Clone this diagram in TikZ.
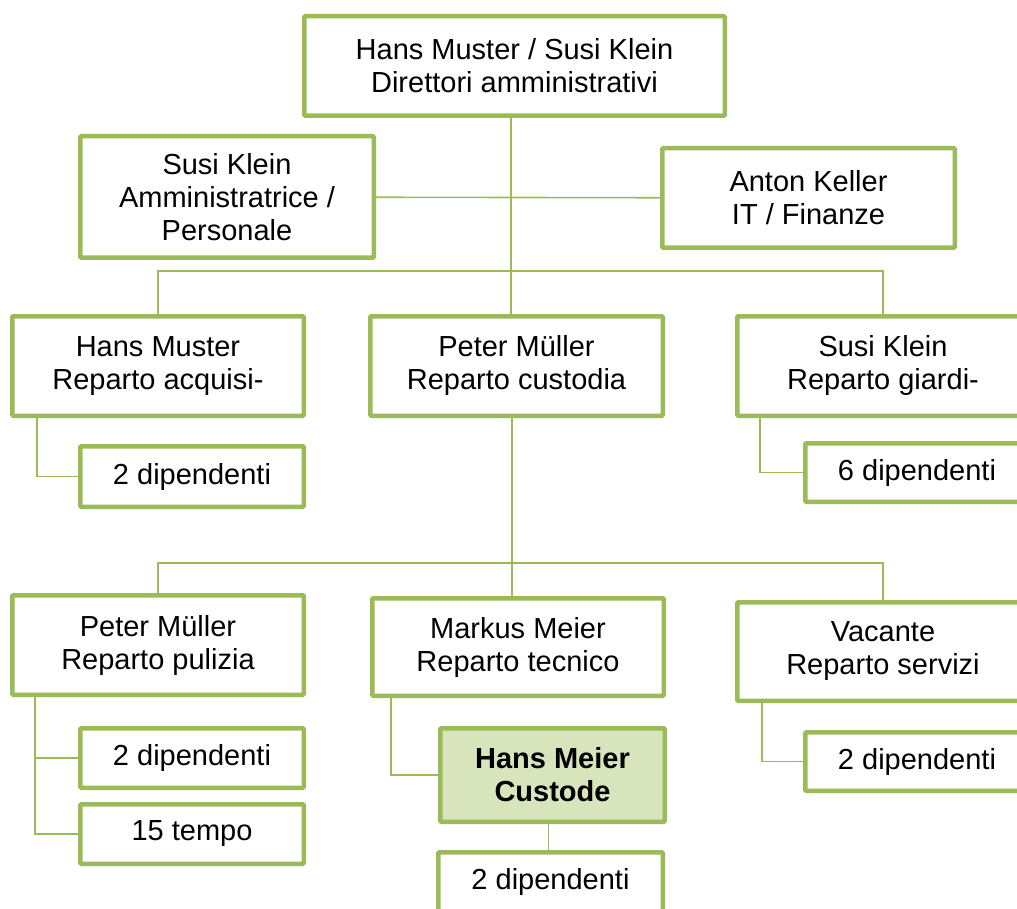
\documentclass[tikz,border=0pt]{standalone}
\usepackage{fontspec}
\setmainfont{Liberation Sans}
\definecolor{olive}{HTML}{9BBB59}
\definecolor{paleolive}{HTML}{D7E4BC}
\tikzset{
  orgbox/.style={draw=olive, line width=4.5pt, rounded corners=1pt, fill=white,
    inner sep=0pt, align=center, font=\fontsize{29}{33}\selectfont},
  link/.style={draw=olive, line width=1.6pt},
}
\begin{document}
\begin{tikzpicture}[x=1pt, y=-1pt]
  \useasboundingbox (0,0) rectangle (1017,909);

  % top
  \node[orgbox, minimum width=420.5pt, minimum height=99.5pt] (top) at (514.5,66) {Hans Muster / Susi Klein\\Direttori amministrativi};
  \node[orgbox, minimum width=293.5pt, minimum height=121.5pt] (admin) at (227,197) {Susi Klein\\Amministratrice /\\Personale};
  \node[orgbox, minimum width=292.5pt, minimum height=99.5pt] (finance) at (808.5,198) {Anton Keller\\IT / Finanze};

  % departments
  \node[orgbox, minimum width=291.5pt, minimum height=99.5pt] (purchase) at (158,366) {Hans Muster\\Reparto acquisi-};
  \node[orgbox, minimum width=292.5pt, minimum height=99.5pt] (custody) at (516.5,366) {Peter Müller\\Reparto custodia};
  \node[orgbox, minimum width=291.5pt, minimum height=99.5pt] (garden) at (883,366) {Susi Klein\\Reparto giardi-};
  \node[orgbox, minimum width=223.5pt, minimum height=60.5pt] (purchasestaff) at (192,476.5) {2 dipendenti};
  \node[orgbox, minimum width=223.5pt, minimum height=58.5pt] (gardenstaff) at (917,472.5) {6 dipendenti};

  % custody units
  \node[orgbox, minimum width=291.5pt, minimum height=99.5pt] (cleaning) at (158,645) {Peter Müller\\Reparto pulizia};
  \node[orgbox, minimum width=291.5pt, minimum height=97.5pt] (technical) at (518,647) {Markus Meier\\Reparto tecnico};
  \node[orgbox, minimum width=291.5pt, minimum height=98.5pt] (service) at (883,651.5) {Vacante\\Reparto servizi};
  \node[orgbox, minimum width=223.5pt, minimum height=59.5pt] (cleaningstaff) at (192,758) {2 dipendenti};
  \node[orgbox, minimum width=223.5pt, minimum height=59.5pt] (cleaningpart) at (192,834) {15 tempo};
  \node[orgbox, fill=paleolive, minimum width=224.5pt, minimum height=93.5pt, font=\fontsize{29}{33}\selectfont\bfseries] (janitor) at (552.5,775) {Hans Meier\\Custode};
  \node[orgbox, minimum width=224.5pt, minimum height=59.5pt] (janitorstaff) at (550.5,882) {2 dipendenti};
  \node[orgbox, minimum width=223.5pt, minimum height=58.5pt] (servicestaff) at (917,761.5) {2 dipendenti};

  \coordinate (busA) at (511,271);
  \coordinate (busB) at (512,563);

  % connectors
  \draw[link] (busA |- top.south) -- (busA) -- (busA |- custody.north);
  \draw[link] (admin) -- (finance);
  \draw[link] (purchase.north) |- (busA) -| (garden.north);
  \draw[link] (busB |- custody.south) -- (busB);
  \draw[link] (cleaning.north) |- (busB) -| (service.north);
  \draw[link] (busB) -- (busB |- technical.north);
  \draw[link] ([xshift=27pt]purchase.south west) |- (purchasestaff.west);
  \draw[link] ([xshift=25pt]garden.south west) |- (gardenstaff.west);
  \draw[link] ([xshift=25pt]cleaning.south west) |- (cleaningstaff.west);
  \draw[link] ([xshift=25pt]cleaning.south west) |- (cleaningpart.west);
  \draw[link] ([xshift=21pt]technical.south west) |- (janitor.west);
  \draw[link] ([xshift=-4pt]janitor.south) -- ([xshift=-4pt]janitor.south |- janitorstaff.north);
  \draw[link] ([xshift=27pt]service.south west) |- (servicestaff.west);
\end{tikzpicture}
\end{document}
